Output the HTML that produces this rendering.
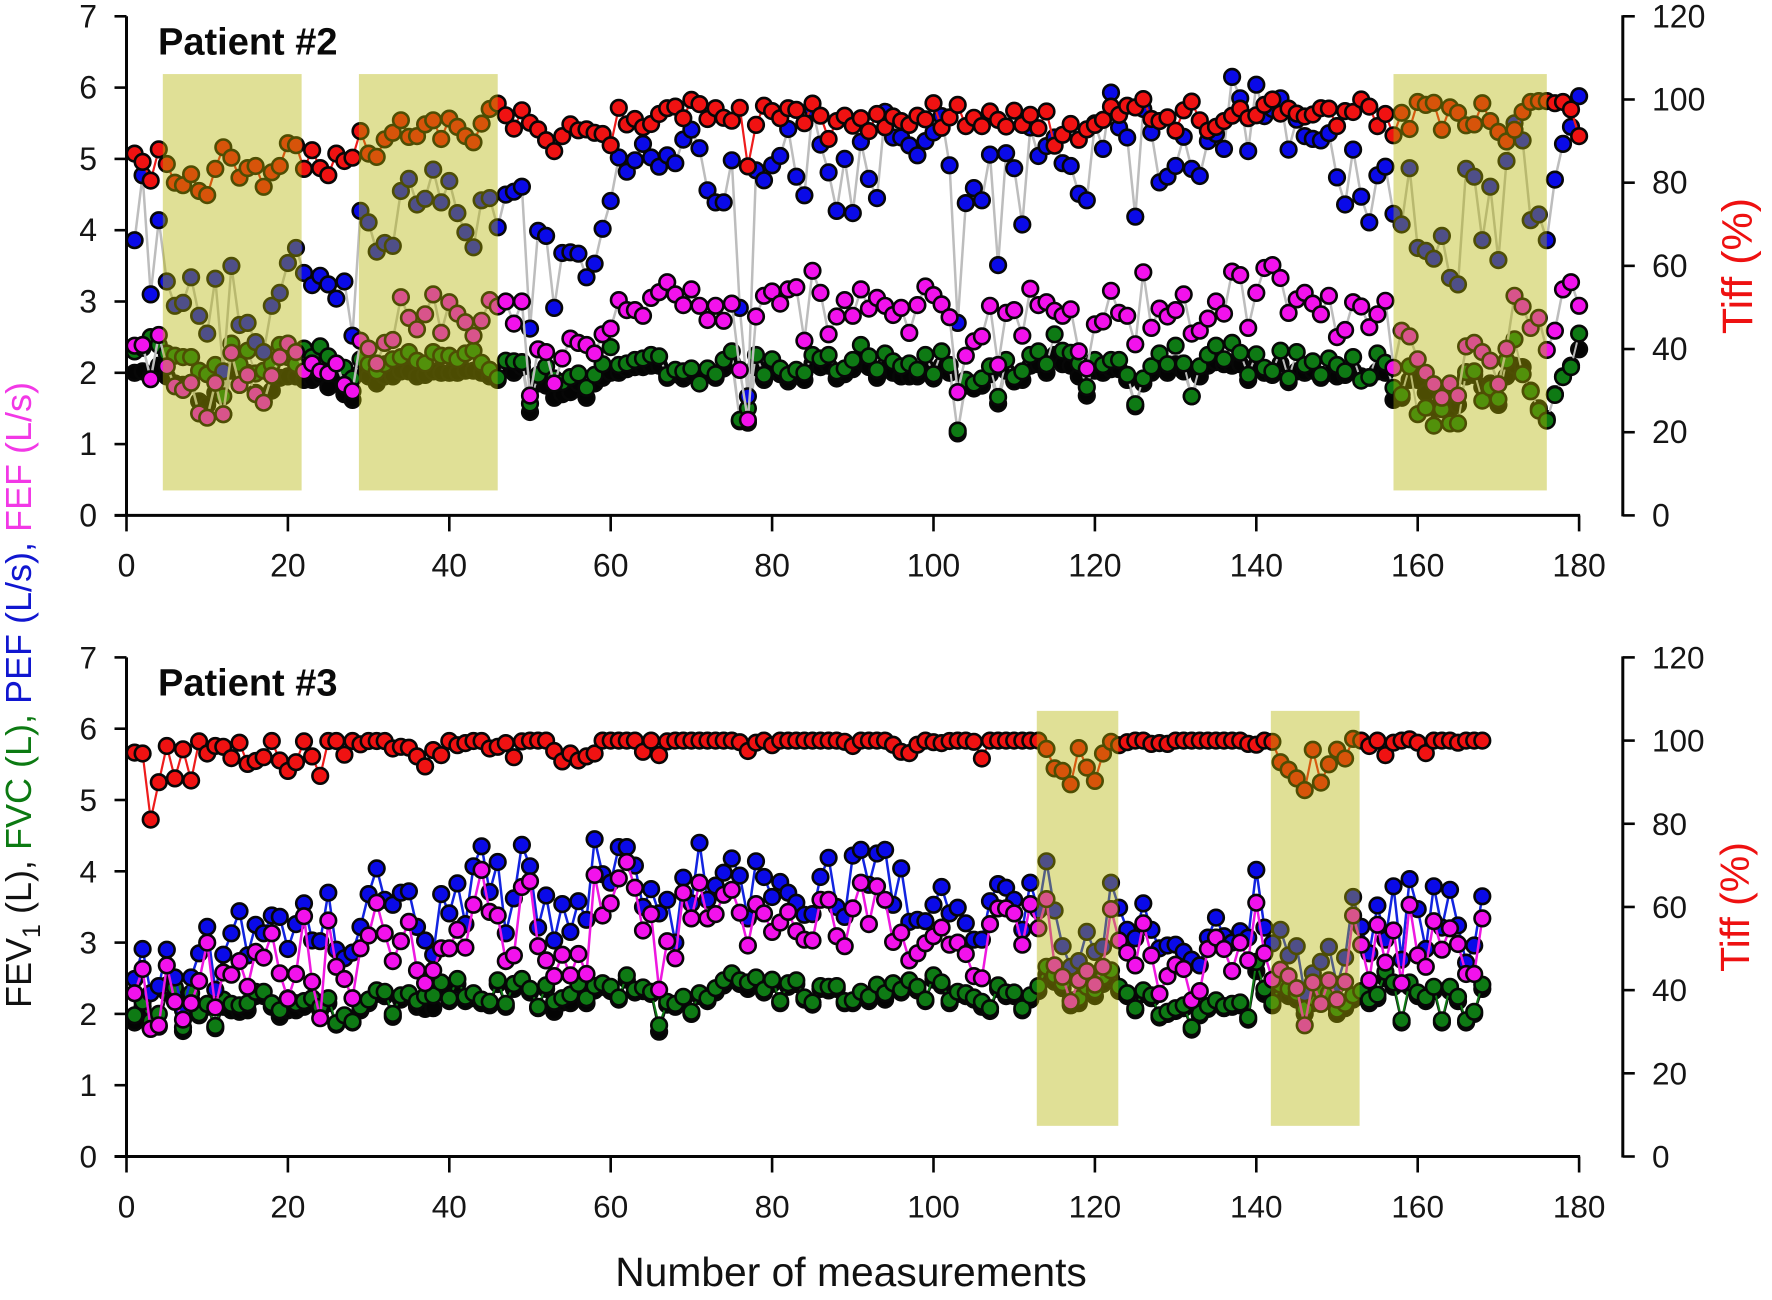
<!DOCTYPE html>
<html lang="en">
<head>
<meta charset="utf-8">
<title>Patient spirometry and Tiffeneau index charts</title>
<style>
html,body{margin:0;padding:0;background:#fff;width:1772px;height:1300px;overflow:hidden}
svg{display:block;font-family:"Liberation Sans",Arial,sans-serif}
</style>
</head>
<body>
<svg id="chart" xmlns="http://www.w3.org/2000/svg" width="1772" height="1300" viewBox="0 0 1772 1300">
  <text x="31" y="695" transform="rotate(-90 31 695)" text-anchor="middle" font-size="36"><tspan fill="#111">FEV</tspan><tspan fill="#111" font-size="25" dy="9">1</tspan><tspan fill="#111" dy="-9"> (L), </tspan><tspan fill="#0c7a12">FVC (L), </tspan><tspan fill="#1016d0">PEF (L/s), </tspan><tspan fill="#f238e6">FEF (L/s)</tspan></text>
  <text x="851" y="1286" text-anchor="middle" font-size="40.8" fill="#111">Number of measurements</text>
</svg>
<script>
const xTicks = [0,20,40,60,80,100,120,140,160,180];
const yTicks = [0,1,2,3,4,5,6,7];
const tiffTicks = [0,20,40,60,80,100,120];

const p2Bands = [[4.5,21.7],[28.8,46],[157,176]];
const p3Bands = [[112.8,122.9],[141.8,152.8]];
const p2BandRange = [0.35,6.19];
const p3BandRange = [0.43,6.25];

const p2Tiff = [
87,85,80.5,88,84.5,80,79.4,82,78,77,
83.3,88.5,86,81.2,83.5,84,79,82.5,84,89.5,
89,83.3,87.8,83.5,81.8,87,85.2,86,92.4,87,
86.2,90.4,92,95,91,91.2,94,95,90.5,95.4,
93.4,91.2,89.7,94.2,97.7,99,96.2,93,97.4,94.4,
92.8,90.2,87.6,91.2,94,92.6,92.8,92,91.7,89,
98,94,95.3,93.3,94.1,96.5,97.9,98.3,95.5,99.9,
98.9,95.3,97.9,95.6,94.9,98,83.9,93.9,98.5,97.2,
95.5,97.9,97.5,94.3,99,96.1,90.5,94.8,96.1,93.7,
95.5,92.4,96.5,93.3,95.9,94.8,93.9,96.1,95.2,99.1,
93.2,95.7,98.7,93.6,95.6,93.6,97.1,95.1,93.5,97.3,
93.9,96.3,93.1,97.1,88.9,91.5,94.1,90.3,92.8,93.9,
95.1,98.3,96.3,98.5,98.1,100.1,95.3,94.8,95.7,92.5,
97.4,99.5,95,92.5,93.4,94.8,96.1,97.8,95.5,96.2,
98.7,100,96.6,97.8,96.6,95.9,96.4,97.9,97.8,93.6,
97.2,97,100,98.3,93.6,96.5,91.4,96.8,92.9,99.4,
98.7,99.2,92.7,98.1,96.8,93.8,94,99.1,94.8,92.2,
89.9,92.7,97,99.4,99.6,99.6,99.1,99.4,97.6,91.2
];
const p2Pef = [
3.86,4.77,3.1,4.14,3.28,2.94,2.98,3.34,2.8,2.55,
3.32,2.02,3.5,2.67,2.7,2.43,2.29,2.94,3.12,3.54,
3.75,3.4,3.23,3.36,3.24,3.04,3.28,2.52,4.27,4.11,
3.7,3.82,3.78,4.55,4.72,4.36,4.44,4.85,4.39,4.69,
4.24,3.97,3.76,4.42,4.45,4.04,4.5,4.54,4.61,2.62,
3.99,3.92,2.91,3.68,3.69,3.67,3.34,3.53,4.02,4.41,
5.02,4.82,4.98,5.21,5.02,4.89,5.05,4.94,5.27,5.41,
5.15,4.56,4.39,4.39,4.98,2.91,1.67,4.84,4.7,4.91,
5.04,5.42,4.75,4.49,5.7,5.2,4.81,4.27,5,4.24,
5.24,4.72,4.45,5.66,5.3,5.3,5.19,5.05,5.25,5.37,
5.6,4.91,2.7,4.38,4.59,4.42,5.06,3.51,5.08,4.87,
4.08,5.44,5.04,5.18,5.3,4.94,4.9,4.51,4.42,5.5,
5.14,5.93,5.44,5.3,4.19,5.7,5.37,4.67,4.75,4.9,
5.31,4.86,4.76,5.25,5.35,5.14,6.15,5.85,5.11,6.04,
5.6,5.7,5.85,5.13,5.55,5.32,5.28,5.26,5.36,4.74,
4.36,5.13,4.47,4.11,4.77,4.89,4.23,4.08,4.87,3.75,
3.71,3.6,3.92,3.33,3.24,4.86,4.75,3.86,4.61,3.58,
4.97,5.5,5.26,4.14,4.22,3.86,4.71,5.21,5.45,5.88
];
const p2Fef = [
2.38,2.39,1.91,2.53,2.09,1.81,1.76,1.86,1.43,1.37,
1.86,1.42,2.28,1.83,1.97,1.7,1.58,1.96,2.22,2.41,
2.29,2.02,2.13,2.02,1.99,2.13,1.83,1.74,2.45,2.34,
2.13,2.42,2.46,3.06,2.77,2.61,2.82,3.1,2.56,2.99,
2.83,2.71,2.52,2.73,3.02,2.93,3,2.69,3,1.68,
2.33,2.29,1.85,2.2,2.48,2.42,2.39,2.27,2.54,2.62,
3.02,2.88,2.88,2.8,3.05,3.13,3.27,3.1,2.95,3.17,
2.94,2.74,2.94,2.73,2.97,2.04,1.34,2.79,3.08,3.14,
2.97,3.17,3.2,2.45,3.43,3.12,2.54,2.79,3.02,2.8,
3.17,2.9,3.05,2.94,2.81,2.91,2.56,2.95,3.21,3.09,
2.96,2.78,1.73,2.24,2.44,2.51,2.94,2.11,2.84,2.88,
2.52,3.18,2.95,2.99,2.87,2.8,2.89,2.3,2.06,2.68,
2.72,3.15,2.84,2.8,2.4,3.41,2.63,2.9,2.79,2.88,
3.1,2.55,2.59,2.76,3,2.83,3.42,3.37,2.63,3.12,
3.47,3.51,3.33,2.84,3.03,3.12,2.97,2.82,3.08,2.5,
2.6,2.99,2.93,2.64,2.82,3.01,2.07,2.59,2.51,2.19,
2,1.84,1.65,1.85,1.68,2.37,2.42,2.29,2.17,1.84,
2.34,3.08,2.93,2.63,2.77,2.32,2.59,3.17,3.27,2.94
];
const p2Fvc = [
2.3,2.35,2.5,2.39,2.27,2.24,2.22,2.22,2.03,1.98,
2.11,1.67,2.41,2.12,2.31,1.99,2.03,2.12,2.39,2.22,
2.12,2.34,2.22,2.37,2.23,2.12,2.07,1.92,2.19,2.12,
2.02,2.12,2.19,2.22,2.29,2.17,2.13,2.29,2.24,2.24,
2.19,2.27,2.31,2.14,2.04,1.93,2.17,2.16,2.15,1.57,
1.97,2.09,1.92,1.87,1.94,1.99,1.79,1.97,2.12,2.36,
2.11,2.13,2.18,2.2,2.25,2.23,1.97,2.04,2.02,2.06,
1.85,2.06,1.98,2.18,2.3,1.34,1.5,2.25,1.97,2.19,
2.06,1.97,2.04,2,2.25,2.2,2.25,2.02,2.06,2.18,
2.39,2.23,2.04,2.27,2.16,2.09,2.13,2.04,2.25,1.98,
2.3,2.11,1.19,1.9,1.85,1.92,2.09,1.66,2.18,1.94,
2.02,2.25,2.3,2.12,2.54,2.31,2.28,2.13,1.8,2.18,
2.11,2.18,2.18,1.97,1.56,1.92,2.09,2.27,2.12,2.38,
2.13,1.67,2.09,2.25,2.38,2.19,2.42,2.28,1.97,2.26,
2.07,2.02,2.31,1.92,2.29,2.11,2.16,1.97,2.2,2.11,
2.02,2.22,1.89,1.94,2.27,2.14,1.79,1.69,2.09,1.42,
1.51,1.26,1.49,1.29,1.29,2.01,2.02,1.61,1.79,1.63,
2.17,2.47,1.98,1.74,1.47,1.33,1.69,1.94,2.08,2.55
];
const p2Fev = [
2,2.02,1.96,2.1,1.95,1.85,1.83,1.86,1.6,1.55,
1.72,1.42,2.03,1.83,2,1.72,1.6,1.75,1.93,1.95,
1.95,1.9,1.9,1.95,1.8,1.98,1.7,1.62,2,1.95,
1.85,1.95,1.95,2.02,2.02,1.95,1.97,2.02,2,2,
2,2.03,2.03,2,1.95,1.9,2.08,2,2.08,1.45,
1.85,1.82,1.65,1.7,1.73,1.85,1.65,1.85,1.93,2,
2,2.05,2.08,2.08,2.1,2.1,1.93,1.98,1.92,1.98,
1.92,1.98,1.93,2.06,2.15,1.32,1.3,2.08,1.9,2.05,
1.98,1.88,1.97,1.9,2.13,2.08,2.1,1.92,1.98,2.05,
2.16,2.08,1.93,2.1,2,1.95,1.95,1.95,2.08,1.92,
2.1,2,1.15,1.82,1.78,1.82,1.98,1.57,2.03,1.88,
1.9,2.1,2.12,2,2.25,2.12,2.1,1.95,1.68,2.03,
2,2.05,2.05,1.9,1.53,1.85,2,2.1,2,2.12,
2.02,1.67,1.95,2.1,2.15,2.12,2.1,2.12,1.9,2.1,
2,1.97,2.13,1.87,2.02,2,2.03,1.93,2,1.95,
1.97,2.03,1.95,1.93,2.02,2,1.62,1.65,1.9,1.9,
1.72,1.5,1.72,1.5,1.55,1.95,1.97,1.8,1.85,1.55,
1.95,2.1,2.08,1.75,1.5,1.35,1.7,1.95,2.1,2.33
];

const p3Tiff = [
97.1,96.9,81,90,98.7,90.9,97.9,90.4,99.8,96.9,
98.7,98.5,95.8,99.5,94.4,95.1,96,99.9,95.2,92.7,
94.8,99.8,96.2,91.5,99.9,99.9,96.6,99.9,99.1,99.9,
99.9,99.9,98.1,98.5,98.3,96.2,93.8,97.7,96.5,99.9,
98.9,99.4,99.9,99.9,98.1,98.5,99.4,96,99.8,100,
100,100,97.5,95,96.9,95.2,96.2,96.9,100,100,
100,100,100,97.3,100,96.5,99.8,100,100,100,
100,100,100,100,100,99.6,97.5,99.5,100,98.9,
100,100,100,100,100,100,100,100,99.7,98.7,
100,100,100,100,99,97.3,97,99,100,99.6,
99.4,99.9,100,100,99.7,95.7,100,100,100,100,
100,100,100,98,93.3,92.7,89.5,98.2,93.5,90.3,
96.9,99.7,98.9,99.6,100,100,99.2,99.4,99.2,100,
100,100,100,100,100,100,100,100,99.2,99,
100,99.7,94.8,93,90.9,88.1,97.8,89.9,94.3,97.8,
95.7,100.4,100,98.7,100,96.5,99.5,100,100.3,99.5,
97,100,100,100,99.5,100,100,100
];
const p3Pef = [
2.49,2.91,2.29,2.39,2.9,2.51,2.05,2.51,2.85,3.22,
2.34,2.83,3.13,3.44,2.82,3.25,3.13,3.38,3.36,2.91,
3.26,3.55,3.03,3.02,3.7,2.9,2.78,2.86,3.22,3.68,
4.04,3.6,3.53,3.7,3.72,3.22,3.03,2.83,3.68,3.41,
3.83,3.26,4.07,4.35,3.71,4.13,3.13,3.62,4.37,4.07,
3.21,3.66,3.03,3.54,3.15,3.58,3.32,4.45,3.96,3.84,
4.34,4.34,4.08,3.5,3.75,3.41,3.6,3,3.91,3.55,
4.4,3.6,3.8,3.98,4.18,3.94,3.34,4.14,3.92,3.64,
3.85,3.7,3.56,3.39,3.4,3.92,4.19,3.5,3.36,4.22,
4.3,3.81,4.25,4.3,3.53,4.04,3.29,3.32,3.3,3.53,
3.78,3.41,3.49,3.27,3.04,3.04,3.58,3.82,3.77,3.6,
3.18,3.84,3.45,4.14,3.45,2.95,2.66,2.74,3.15,2.87,
2.94,3.84,3.49,3.18,3.06,3.55,3.18,2.92,2.96,2.97,
2.87,2.76,2.68,3.07,3.35,3.09,3,3.16,3.07,4.02,
3.21,2.99,3.18,2.82,2.95,2.29,2.57,2.73,2.94,2.41,
2.79,3.64,3.22,2.85,3.52,3.04,3.79,2.76,3.89,3.47,
2.91,3.79,3.21,3.74,3.24,2.72,2.96,3.65
];
const p3Fef = [
2.29,2.63,1.79,1.84,2.68,2.17,1.92,2.15,2.46,3,
2.09,2.58,2.55,2.74,2.38,2.87,2.79,3.13,2.57,2.21,
2.56,3.37,2.45,1.94,3.31,2.66,2.49,2.22,2.92,3.1,
3.56,3.13,2.74,3.02,3.29,2.61,2.43,2.61,2.92,2.92,
3.18,2.93,3.53,4.02,3.43,3.38,2.74,2.82,3.78,3.86,
2.95,2.75,2.53,2.83,2.54,2.84,2.56,3.95,3.38,3.55,
3.9,4.13,3.77,3.17,3.4,2.34,3.02,2.78,3.7,3.34,
3.84,3.34,3.4,3.67,3.74,3.42,2.96,3.54,3.41,3.15,
3.28,3.43,3.16,3.04,3.03,3.6,3.6,3.09,2.95,3.48,
3.84,3.26,3.79,3.6,3.01,3.14,2.75,2.85,2.99,3.09,
3.21,2.97,3,2.84,2.53,2.5,3.26,3.48,3.48,3.41,
2.97,3.54,3.2,3.61,2.68,2.52,2.17,2.47,2.6,2.41,
2.66,3.47,3.03,2.86,2.68,3.27,2.82,2.28,2.53,2.69,
2.63,2.19,2.32,2.91,3.07,2.91,2.6,3,2.75,3.56,
2.85,2.48,2.62,2.53,2.36,1.84,2.44,2.14,2.47,2.2,
2.45,3.38,2.97,2.47,3.25,2.72,3.17,2.43,3.53,2.82,
2.66,3.3,2.9,3.2,2.98,2.56,2.56,3.34
];
const p3Fvc = [
1.98,2.17,1.9,2,2.4,2.37,1.81,2.29,2.01,2.14,
1.83,2.2,2.14,2.12,2.15,2.31,2.31,2.15,2.05,2.22,
2.15,2.18,2.22,2.1,2.22,1.87,1.98,1.89,2.1,2.2,
2.33,2.31,2,2.26,2.29,2.18,2.25,2.26,2.44,2.22,
2.49,2.24,2.29,2.2,2.17,2.47,2.14,2.42,2.49,2.35,
2.1,2.4,2.17,2.22,2.27,2.42,2.22,2.39,2.43,2.38,
2.23,2.54,2.34,2.37,2.31,1.84,2.17,2.14,2.24,2.03,
2.29,2.22,2.36,2.47,2.57,2.47,2.44,2.51,2.34,2.48,
2.18,2.43,2.47,2.23,2.16,2.39,2.38,2.39,2.18,2.19,
2.31,2.24,2.41,2.29,2.43,2.34,2.47,2.38,2.2,2.54,
2.44,2.19,2.31,2.29,2.23,2.17,2.08,2.4,2.3,2.3,
2.08,2.26,2.39,2.66,2.54,2.43,2.19,2.22,2.38,2.33,
2.52,2.61,2.38,2.29,2.08,2.33,2.26,1.98,2.03,2.08,
2.12,1.81,2.01,2.11,2.19,2.11,2.14,2.16,1.95,2.73,
2.35,2.16,2.41,2.35,2.29,2.07,2.23,2.32,2.29,2.06,
2.14,2.26,2.32,2.2,2.27,2.59,2.44,1.91,2.44,2.3,
2.23,2.38,1.91,2.38,2.24,1.91,2.03,2.41
];
const p3Fev = [
1.88,2.1,1.8,1.82,2.3,2.3,1.76,2.2,1.98,2.1,
1.8,2.1,2.05,2.03,2.05,2.25,2.25,2.1,1.96,2.05,
2.05,2.1,2.15,2.05,2.15,1.85,1.95,1.88,2.05,2.15,
2.28,2.25,1.96,2.2,2.25,2.1,2.07,2.08,2.38,2.18,
2.42,2.18,2.22,2.15,2.12,2.42,2.1,2.35,2.42,2.3,
2.08,2.35,2.03,2.16,2.15,2.38,2.15,2.33,2.38,2.32,
2.2,2.48,2.3,2.32,2.28,1.75,2.13,2.1,2.2,2,
2.25,2.18,2.3,2.4,2.5,2.42,2.35,2.45,2.3,2.42,
2.15,2.38,2.42,2.2,2.13,2.35,2.33,2.35,2.15,2.15,
2.26,2.18,2.35,2.2,2.38,2.3,2.4,2.33,2.18,2.48,
2.4,2.15,2.28,2.25,2.2,2.1,2.04,2.35,2.25,2.25,
2.05,2.2,2.32,2.55,2.45,2.36,2.12,2.15,2.3,2.25,
2.42,2.5,2.32,2.25,2.05,2.28,2.22,1.95,2,2.04,
2.08,1.78,1.98,2.07,2.15,2.08,2.1,2.12,1.92,2.6,
2.28,2.12,2.3,2.25,2.2,2,2.15,2.25,2.2,2,
2.08,2.2,2.25,2.15,2.22,2.5,2.38,1.88,2.38,2.25,
2.18,2.32,1.88,2.32,2.18,1.88,2,2.35
];

const SVG_NS = 'http://www.w3.org/2000/svg';
const svg = document.getElementById('chart');
const plotX0 = 126.5;
const plotUnitX = 8.07;
const unitY = 71.3;
const rightAxisX = 1622.8;

function xScale(n){ return plotX0 + n * plotUnitX; }
function yScale(v, y0){ return y0 - v * unitY; }
function tiffScale(t, y0){ return y0 - (t / 120) * 7 * unitY; }

function mk(tag, parent){
  const el = document.createElementNS(SVG_NS, tag);
  parent.appendChild(el);
  return el;
}
function segment(parent, x1, y1, x2, y2, w){
  const l = mk('line', parent);
  l.setAttribute('x1', x1); l.setAttribute('y1', y1);
  l.setAttribute('x2', x2); l.setAttribute('y2', y2);
  l.setAttribute('stroke', '#050505');
  l.setAttribute('stroke-width', w);
  return l;
}
function label(parent, x, y, str, size, anchor){
  const t = mk('text', parent);
  t.setAttribute('x', x); t.setAttribute('y', y);
  t.setAttribute('font-size', size);
  t.setAttribute('text-anchor', anchor);
  t.setAttribute('fill', '#151515');
  t.textContent = str;
  return t;
}

function drawSeries(parent, name, values, y, lineColor, lineWidth, dotColor){
  const g = mk('g', parent);
  
  
  const line = mk('polyline', g);
  
  
  line.setAttribute('fill', 'none');
  line.setAttribute('stroke', lineColor);
  line.setAttribute('stroke-width', lineWidth);
  line.setAttribute('points', values.map((v, i) => xScale(i + 1).toFixed(1) + ',' + y(v).toFixed(1)).join(' '));
  values.forEach((v, i) => {
    const c = mk('circle', g);
    
    
    c.setAttribute('cx', xScale(i + 1).toFixed(1));
    c.setAttribute('cy', y(v).toFixed(1));
    c.setAttribute('r', 7.8);
    c.setAttribute('fill', dotColor);
    c.setAttribute('stroke', '#070707');
    c.setAttribute('stroke-width', 2.6);
  });
}

function drawPanel(cfg){
  const y0 = cfg.y0;
  const g = mk('g', svg);
  
  

  const yL = v => yScale(v, y0);
  const yT = t => tiffScale(t, y0);
  drawSeries(g, cfg.name + '-fev1', cfg.fev, yL, cfg.fevLine, cfg.thin, '#040404');
  drawSeries(g, cfg.name + '-fvc', cfg.fvc, yL, cfg.fvcLine, cfg.thin, '#0e7a14');
  drawSeries(g, cfg.name + '-pef', cfg.pef, yL, cfg.pefLine, 2.5, '#0a0ae8');
  drawSeries(g, cfg.name + '-fef', cfg.fef, yL, cfg.fefLine, 2.5, '#f212ec');
  drawSeries(g, cfg.name + '-tiff', cfg.tiff, yT, '#ee1c1c', 2.2, '#f01212');

  cfg.bands.forEach(b => {
    const r = mk('rect', g);
    
    
    r.setAttribute('x', xScale(b[0]));
    r.setAttribute('width', xScale(b[1]) - xScale(b[0]));
    r.setAttribute('y', yL(cfg.bandRange[1]));
    r.setAttribute('height', yL(cfg.bandRange[0]) - yL(cfg.bandRange[1]));
    r.setAttribute('fill', 'rgb(180,180,0)');
    r.setAttribute('fill-opacity', '0.41');
  });

  const ax = mk('g', g);
  
  

  const leftAxis = segment(ax, plotX0, yL(7), plotX0, y0, 3);
  
  
  yTicks.forEach(v => {
    const tk = segment(ax, plotX0 - 12, yL(v), plotX0, yL(v), 2.6);
    
    
    const lb = label(ax, 97, yL(v) + 11, String(v), cfg.font, 'end');
    
    
  });

  const bottomAxis = segment(ax, plotX0 - 12, y0, xScale(180) + 1, y0, 3);
  
  
  xTicks.forEach(v => {
    const tk = segment(ax, xScale(v), y0, xScale(v), y0 + 16, 2.6);
    
    
    const lb = label(ax, xScale(v), y0 + 61, String(v), cfg.font, 'middle');
    
    
  });

  const rightAxis = segment(ax, rightAxisX, yT(120) - 1, rightAxisX, y0 + 1, 3);
  
  
  tiffTicks.forEach(t => {
    const tk = segment(ax, rightAxisX, yT(t), rightAxisX + 12, yT(t), 2.6);
    
    
    const lb = label(ax, 1652, yT(t) + 11, String(t), cfg.font, 'start');
    
    
  });

  const tiffTitle = label(g, cfg.tiffX, cfg.tiffY, 'Tiff (%)', cfg.tiffFont, 'middle');
  tiffTitle.setAttribute('fill', '#ee1111');
  tiffTitle.setAttribute('transform', 'rotate(-90 ' + cfg.tiffX + ' ' + cfg.tiffY + ')');
  
  

  const title = label(g, 158, y0 - 461, cfg.title, 38, 'start');
  title.setAttribute('font-weight', 'bold');
  title.setAttribute('fill', '#0a0a0a');
  
  
}

drawPanel({
  name: 'patient-2-panel', title: 'Patient #2', y0: 515.4, font: 32,
  fev: p2Fev, fvc: p2Fvc, pef: p2Pef, fef: p2Fef, tiff: p2Tiff,
  fevLine: '#bdbdbd', fvcLine: '#bdbdbd', pefLine: '#bdbdbd', fefLine: '#bdbdbd', thin: 2,
  bands: p2Bands, bandRange: p2BandRange, tiffX: 1752, tiffY: 266, tiffFont: 43
});
drawPanel({
  name: 'patient-3-panel', title: 'Patient #3', y0: 1156.5, font: 31.5,
  fev: p3Fev, fvc: p3Fvc, pef: p3Pef, fef: p3Fef, tiff: p3Tiff,
  fevLine: '#111111', fvcLine: '#0e7a14', pefLine: '#1224e0', fefLine: '#ee18e0', thin: 2,
  bands: p3Bands, bandRange: p3BandRange, tiffX: 1749, tiffY: 907, tiffFont: 41
});
</script>
</body>
</html>
